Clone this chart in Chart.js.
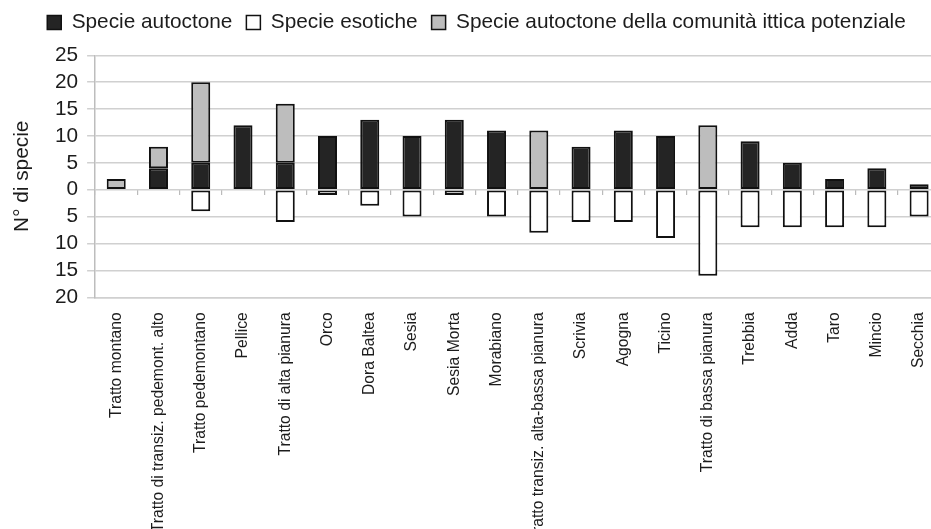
<!DOCTYPE html>
<html>
<head>
<meta charset="utf-8">
<script src="https://cdn.jsdelivr.net/npm/chart.js@4/dist/chart.umd.min.js"></script>
<style>
  html, body { margin: 0; padding: 0; background: #fff; overflow: hidden; }
  #wrap { width: 945px; height: 548px; position: relative; }
</style>
</head>
<body>
<div id="wrap"><canvas id="chartSpecie"></canvas></div>
<script>
const tratti = [
  "Tratto montano", "Tratto di transiz. pedemont. alto", "Tratto pedemontano", "Pellice",
  "Tratto di alta pianura", "Orco", "Dora Baltea", "Sesia", "Sesia Morta", "Morabiano",
  "Tratto transiz. alta-bassa pianura", "Scrivia", "Agogna", "Ticino", "Tratto di bassa pianura",
  "Trebbia", "Adda", "Taro", "Mincio", "Secchia"
];
const autoctone  = [0, 4, 5, 12, 5, 10, 13, 10, 13, 11, 0, 8, 11, 10, 0, 9, 5, 2, 4, 1];
const esotiche   = [0, 0, 4, 0, 6, 1, 3, 5, 1, 5, 8, 6, 6, 9, 16, 7, 7, 7, 7, 5];
const potenziale = [2, 4, 15, 0, 11, 0, 0, 0, 0, 0, 11, 0, 0, 0, 12, 0, 0, 0, 0, 0];
const yTicks = [-20, -15, -10, -5, 0, 5, 10, 15, 20, 25];

const font = "'Liberation Sans', Arial, sans-serif";
const testo = "#1c1c1c";
const griglia = "#d0d0d0";

const bordo = (ctx) => (ctx.raw ? 2 : 0);

const data = {
  labels: tratti,
  datasets: [
    {
      label: "Specie autoctone",
      data: autoctone,
      backgroundColor: "#242424",
    },
    {
      label: "Specie esotiche",
      data: esotiche.map((v) => -v),
      backgroundColor: "#ffffff",
    },
    {
      label: "Specie autoctone della comunità ittica potenziale",
      data: potenziale,
      backgroundColor: "#bdbdbd",
    },
  ].map((ds) => ({
    ...ds,
    borderColor: "#111",
    borderWidth: bordo,
    borderSkipped: false,
    barPercentage: 0.45,
    categoryPercentage: 1,
  })),
};

// more room under the legend
const legendaSpazio = {
  id: "legendaSpazio",
  beforeInit(chart) {
    const fit = chart.legend.fit;
    chart.legend.fit = function () {
      fit.call(this);
      this.height += 12.5;
    };
  },
};

const config = {
  type: "bar",
  data,
  plugins: [legendaSpazio],
  options: {
    responsive: true,
    maintainAspectRatio: false,
    animation: false,
    layout: { padding: { left: 10, right: 2, top: -2, bottom: 0 } },
    plugins: {
      tooltip: { enabled: false },
      legend: {
        position: "top",
        labels: {
          font: { family: font, size: 20.8 },
          color: testo,
          boxWidth: 14,
          boxHeight: 14,
          padding: 14,
          generateLabels: (chart) =>
            Chart.defaults.plugins.legend.labels.generateLabels(chart).map((it) => ({
              ...it,
              lineWidth: 1.5,
              strokeStyle: "#111",
            })),
        },
      },
    },
    scales: {
      x: {
        stacked: true,
        grid: { display: false },
        border: { display: true, color: griglia, width: 1.5 },
        ticks: {
          font: { family: font, size: 15.7 },
          color: testo,
          minRotation: 90,
          maxRotation: 90,
          autoSkip: false,
          padding: 7,
        },
      },
      xZero: {
        type: "category",
        labels: tratti,
        position: { y: 0 },
        offset: true,
        grid: { offset: true, drawOnChartArea: false, tickLength: 5, color: "#bbb", lineWidth: 1.2 },
        border: { display: false },
        ticks: { display: false },
      },
      y: {
        stacked: true,
        min: -20,
        max: 25,
        afterBuildTicks: (axis) => {
          axis.ticks = yTicks.map((v) => ({ value: v }));
        },
        grid: { color: griglia, lineWidth: 1.5, tickLength: 8 },
        border: { display: true, color: "#bdbdbd", width: 1.5 },
        ticks: {
          font: { family: font, size: 20.8 },
          color: testo,
          padding: 9,
          autoSkip: false,
          callback: (v) => Math.abs(v),
        },
        title: {
          display: true,
          text: "N° di specie",
          font: { family: font, size: 20.8 },
          color: testo,
          padding: { top: 0, bottom: 11 },
        },
      },
    },
  },
};

const chartSpecie = new Chart(document.getElementById("chartSpecie"), config);
</script>
</body>
</html>
